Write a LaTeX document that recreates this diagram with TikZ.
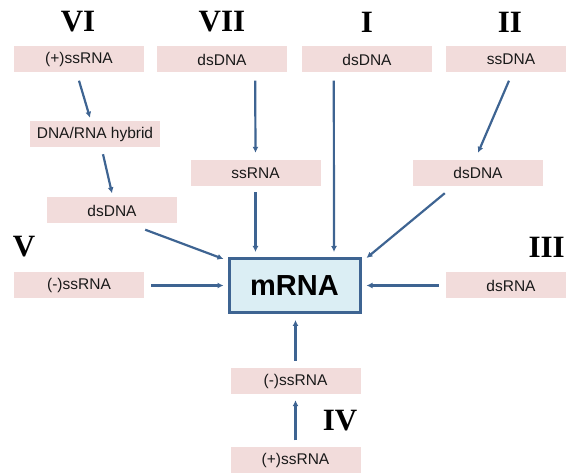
\documentclass[tikz,border=0pt]{standalone}
\usepackage{fontspec}
\setmainfont{Liberation Serif}
\setsansfont{Liberation Sans}
\usetikzlibrary{arrows.meta}

\definecolor{boxpink}{HTML}{F2DCDB}
\definecolor{boxblue}{HTML}{DBEEF4}
\definecolor{linkblue}{HTML}{3E6492}

\tikzset{
  genome/.style={rectangle,
      fill = boxpink,
      text = black!90,
      font = \sffamily\fontsize{15.5}{18}\selectfont,
      inner sep = 0pt,
      minimum width = 130pt,
      minimum height = 26pt},
  classlabel/.style={font = \bfseries\fontsize{31}{34}\selectfont,
      inner sep = 0pt},
  flow/.style={draw = linkblue,
      line width = 2.2pt,
      -{Latex[length=6pt,width=6pt]}}
}

\begin{document}
\begin{tikzpicture}[x=1pt, y=-1pt]
\useasboundingbox (0,0) rectangle (566,473);
\clip (0,0) rectangle (566,473);

% centre
\node[rectangle,
    draw = linkblue,
    line width = 3pt,
    fill = boxblue,
    minimum width = 131pt,
    minimum height = 54pt,
    font = \sffamily\bfseries\fontsize{29}{32}\selectfont] (mrna) at (294.5,285.5) {mRNA};

% class labels
\node[classlabel] (lab6) at (78,22) {VI};
\node[classlabel] (lab7) at (222,22) {VII};
\node[classlabel] (lab1) at (367,22) {I};
\node[classlabel] (lab2) at (510,22) {II};
\node[classlabel] (lab5) at (24,247) {V};
\node[classlabel, anchor=east] (lab3) at (565,247) {III};
\node[classlabel] (lab4) at (340,421) {IV};

% top row
\node[genome] (ssrna6) at (79,59.5) {(+)ssRNA};
\node[genome] (dsdna7) at (222,59.5) {dsDNA};
\node[genome] (dsdna1) at (367,59.5) {dsDNA};
\node[genome] (ssdna2) at (511,59.5) {ssDNA};

% intermediates
\node[genome] (hybrid6) at (95,134) {DNA/RNA hybrid};
\node[genome] (ssrna7) at (255.5,173) {ssRNA};
\node[genome] (dsdna2) at (478,173) {dsDNA};
\node[genome] (dsdna6) at (112,210.5) {dsDNA};

% sides and bottom
\node[genome] (ssrna5) at (79,285.5) {(-)ssRNA};
\node[genome] (dsrna3) at (511,285.5) {dsRNA};
\node[genome] (minus4) at (295.5,381) {(-)ssRNA};
\node[genome] (plus4) at (295.5,460.5) {(+)ssRNA};

% class VI
\draw[flow] ([yshift=-8pt]ssrna6.south) -- ([xshift=-5pt,yshift=3pt]hybrid6.north);
\draw[flow] ([xshift=8pt,yshift=-7pt]hybrid6.south) -- ([yshift=4pt]dsdna6.north);
\draw[flow] ([xshift=-32pt,yshift=-6pt]dsdna6.south east) -- ([xshift=-4pt,yshift=-2pt]mrna.north west);

% class VII and I
\draw[flow] ([xshift=-32pt,yshift=-8pt]dsdna7.south east) -- ([yshift=7pt]ssrna7.north);
\draw[flow] ([yshift=-6pt]ssrna7.south) -- ([xshift=28pt,yshift=5pt]mrna.north west);
\draw[flow] ([xshift=32pt,yshift=-8pt]dsdna1.south west) -- ([xshift=-27.5pt,yshift=5pt]mrna.north east);

% class II and III
\draw[flow] ([xshift=-2pt,yshift=-8pt]ssdna2.south) -- ([yshift=7pt]dsdna2.north);
\draw[flow] ([xshift=32pt,yshift=-7pt]dsdna2.south west) -- ([xshift=5pt,yshift=-1pt]mrna.north east);
\draw[flow] ([xshift=-7pt]dsrna3.west) -- ([xshift=5pt]mrna.east);

% class V and IV
\draw[flow] ([xshift=7pt]ssrna5.east) -- ([xshift=-4pt]mrna.west);
\draw[flow] ([yshift=7pt]minus4.north) -- ([xshift=1pt,yshift=-6pt]mrna.south);
\draw[flow] ([yshift=7pt]plus4.north) -- ([yshift=-6pt]minus4.south);

\end{tikzpicture}
\end{document}
